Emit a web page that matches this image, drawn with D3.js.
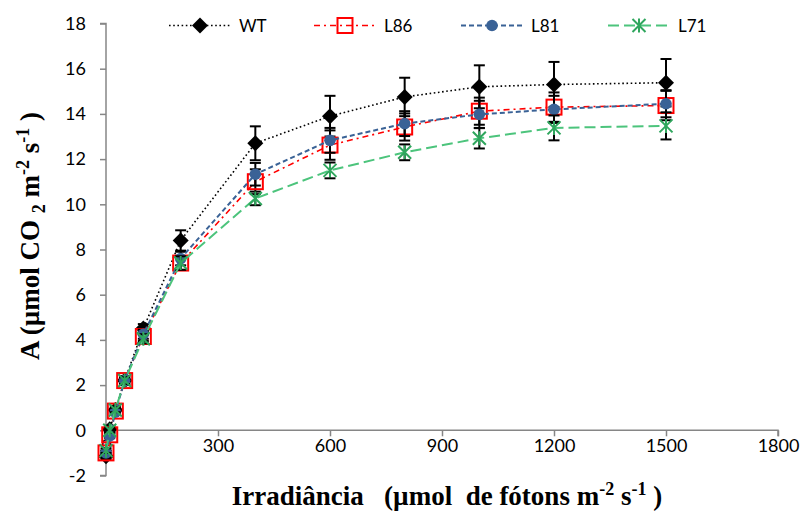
<!DOCTYPE html>
<html>
<head>
<meta charset="utf-8">
<script src="https://cdn.jsdelivr.net/npm/d3@7"></script>
<style>
  body { margin: 0; background: #fff; }
  svg text { fill: #000; }
</style>
</head>
<body>
<svg id="chart"></svg>
<script>
// irradiance levels (µmol m-2 s-1)
const irradiance = [0, 10, 25, 50, 100, 200, 400, 600, 800, 1000, 1200, 1500];

const wtValues  = [-1.15, 0.05, 0.9, 2.2, 4.5, 8.4, 12.7, 13.9, 14.75, 15.2, 15.3, 15.38];
const l86Values = [-1.0, -0.2, 0.85, 2.2, 4.15, 7.4, 11.0, 12.62, 13.42, 14.12, 14.3, 14.37];
const l81Values = [-1.0, -0.25, 0.8, 2.2, 4.25, 7.6, 11.33, 12.83, 13.57, 13.98, 14.2, 14.45];
const l71Values = [-0.9, 0.0, 0.9, 2.2, 4.05, 7.4, 10.26, 11.5, 12.3, 12.92, 13.38, 13.47];

const wtErr  = [0.15, 0.15, 0.15, 0.2, 0.2, 0.45, 0.75, 0.9, 0.85, 0.95, 1.0, 1.05];
const l86Err = [0.1, 0.1, 0.1, 0.15, 0.2, 0.3, 0.55, 0.65, 0.6, 0.6, 0.65, 0.65];
const l81Err = [0.1, 0.1, 0.1, 0.15, 0.2, 0.3, 0.5, 0.55, 0.55, 0.6, 0.6, 0.6];
const l71Err = [0.1, 0.1, 0.1, 0.15, 0.2, 0.3, 0.3, 0.35, 0.35, 0.45, 0.55, 0.6];

const seriesNames = ["WT", "L86", "L81", "L71"];
const xTicks = [0, 300, 600, 900, 1200, 1500, 1800];
const yTicks = [-2, 0, 2, 4, 6, 8, 10, 12, 14, 16, 18];

const width = 810, height = 516;

const svg = d3.select("#chart")
    .attr("width", width)
    .attr("height", height);

const xscale = d3.scaleLinear().domain([0, 1800]).range([106, 778]);
const yscale = d3.scaleLinear().domain([-2, 18]).range([475.5, 23.5]);

const styles = {
    WT:  { color: "#000000", dash: "1.6,2.6", width: 1.6, marker: "diamond" },
    L86: { color: "#ff0000", dash: "6,4,2,4", width: 1.6, marker: "square" },
    L81: { color: "#3a6296", dash: "5,3", width: 2, marker: "circle" },
    L71: { color: "#4cc47c", dash: "11,5", width: 2, marker: "star" }
};

const series = [
    { name: "WT",  values: wtValues,  err: wtErr },
    { name: "L86", values: l86Values, err: l86Err },
    { name: "L81", values: l81Values, err: l81Err },
    { name: "L71", values: l71Values, err: l71Err }
];

// axes
const axisColor = "#868686";
const tickFont = "Lato, 'Open Sans', sans-serif";
const yAxis = d3.axisLeft(yscale).tickValues(yTicks).tickSize(6).tickFormat(d => String(d));
const yg = svg.append("g").attr("transform", `translate(${xscale(0)},0)`).call(yAxis);
yg.select(".domain").attr("stroke", axisColor).attr("stroke-width", 1.5).attr("d", `M-6,${yscale(18)}H0V${yscale(-2)}H-6`);
yg.selectAll(".tick line").attr("stroke", axisColor).attr("stroke-width", 1.5);
yg.selectAll(".tick text")
    .attr("x", -20)
    .attr("font-family", tickFont)
    .attr("font-size", 18);

const xAxis = d3.axisBottom(xscale).tickValues(xTicks).tickSize(6).tickFormat(d => String(d));
const xg = svg.append("g").attr("transform", `translate(0,${yscale(0)})`).call(xAxis);
xg.select(".domain").attr("stroke", axisColor).attr("stroke-width", 1.5).attr("d", `M${xscale(0)},0H${xscale(1800)}V6`);
xg.selectAll(".tick line").attr("stroke", axisColor).attr("stroke-width", 1.5);
xg.selectAll(".tick text")
    .attr("y", yscale(-2) - yscale(0) - 23)
    .attr("dy", "0")
    .attr("font-family", tickFont)
    .attr("font-size", 18);

// marker drawing
function drawMarker(g, type, color) {
    if (type === "diamond") {
        g.append("path").attr("d", "M0,-8L8,0L0,8L-8,0Z").attr("fill", color);
    } else if (type === "square") {
        g.append("rect").attr("x", -7.5).attr("y", -7.5).attr("width", 15).attr("height", 15)
            .attr("fill", "none").attr("stroke", color).attr("stroke-width", 2);
    } else if (type === "circle") {
        g.append("circle").attr("r", 5.8).attr("fill", color);
    } else if (type === "star") {
        g.append("path").attr("d", "M-6.5,-6.5L6.5,6.5M-6.5,6.5L6.5,-6.5M0,-7V7")
            .attr("stroke", "#2fa65d").attr("stroke-width", 2).attr("fill", "none");
    }
}

const line = d3.line()
    .x(d => xscale(d.x))
    .y(d => yscale(d.y));

series.forEach(s => {
    const st = styles[s.name];
    const pts = irradiance.map((x, i) => ({ x: x, y: s.values[i], e: s.err[i] }));
    const g = svg.append("g");

    // error bars
    const eb = g.selectAll(".eb").data(pts).enter().append("g")
        .attr("stroke", "#000").attr("stroke-width", 2);
    eb.append("line")
        .attr("x1", d => xscale(d.x)).attr("x2", d => xscale(d.x))
        .attr("y1", d => yscale(d.y - d.e)).attr("y2", d => yscale(d.y + d.e));
    eb.append("line")
        .attr("x1", d => xscale(d.x) - 5.5).attr("x2", d => xscale(d.x) + 5.5)
        .attr("y1", d => yscale(d.y + d.e)).attr("y2", d => yscale(d.y + d.e));
    eb.append("line")
        .attr("x1", d => xscale(d.x) - 5.5).attr("x2", d => xscale(d.x) + 5.5)
        .attr("y1", d => yscale(d.y - d.e)).attr("y2", d => yscale(d.y - d.e));

    g.append("path")
        .datum(pts)
        .attr("d", line)
        .attr("fill", "none")
        .attr("stroke", st.color)
        .attr("stroke-width", st.width)
        .attr("stroke-dasharray", st.dash);

    g.selectAll(".mk").data(pts).enter().append("g")
        .attr("transform", d => `translate(${xscale(d.x)},${yscale(d.y)})`)
        .each(function() { drawMarker(d3.select(this), st.marker, st.color); });
});

// legend
const legendX = [200, 345, 492, 639];
const legendY = 25.5;
seriesNames.forEach((name, i) => {
    const st = styles[name];
    const lg = svg.append("g").attr("transform", `translate(${legendX[i]},${legendY})`);
    lg.append("line").attr("x1", -31).attr("x2", 31).attr("y1", 0).attr("y2", 0)
        .attr("stroke", st.color).attr("stroke-width", st.width).attr("stroke-dasharray", st.dash);
    const mg = lg.append("g");
    drawMarker(mg, st.marker, st.color);
    lg.append("text").attr("x", 39).attr("y", 6)
        .attr("font-family", tickFont)
        .attr("font-size", 17)
        .text(name);
});

// axis titles
const xt = svg.append("text")
    .attr("x", 447).attr("y", 505)
    .attr("text-anchor", "middle")
    .attr("font-family", "'Liberation Serif', 'Times New Roman', serif")
    .attr("font-weight", "bold")
    .attr("font-size", 27)
    .attr("xml:space", "preserve");
xt.append("tspan").text("Irradiância   (µmol  de fótons m");
xt.append("tspan").attr("dy", -10).attr("font-size", 18).text("-2");
xt.append("tspan").attr("dy", 10).text(" s");
xt.append("tspan").attr("dy", -10).attr("font-size", 18).text("-1");
xt.append("tspan").attr("dy", 10).text(" )");

const yt = svg.append("text")
    .attr("transform", "translate(39,236) rotate(-90)")
    .attr("text-anchor", "middle")
    .attr("font-family", "'Liberation Serif', 'Times New Roman', serif")
    .attr("font-weight", "bold")
    .attr("font-size", 27)
    .attr("xml:space", "preserve");
yt.append("tspan").text("A (µmol CO ");
yt.append("tspan").attr("dy", 6).attr("font-size", 18).text("2");
yt.append("tspan").attr("dy", -6).text(" m");
yt.append("tspan").attr("dy", -10).attr("font-size", 18).text("-2");
yt.append("tspan").attr("dy", 10).text(" s");
yt.append("tspan").attr("dy", -10).attr("font-size", 18).text("-1");
yt.append("tspan").attr("dy", 10).text(" )");
</script>
</body>
</html>
